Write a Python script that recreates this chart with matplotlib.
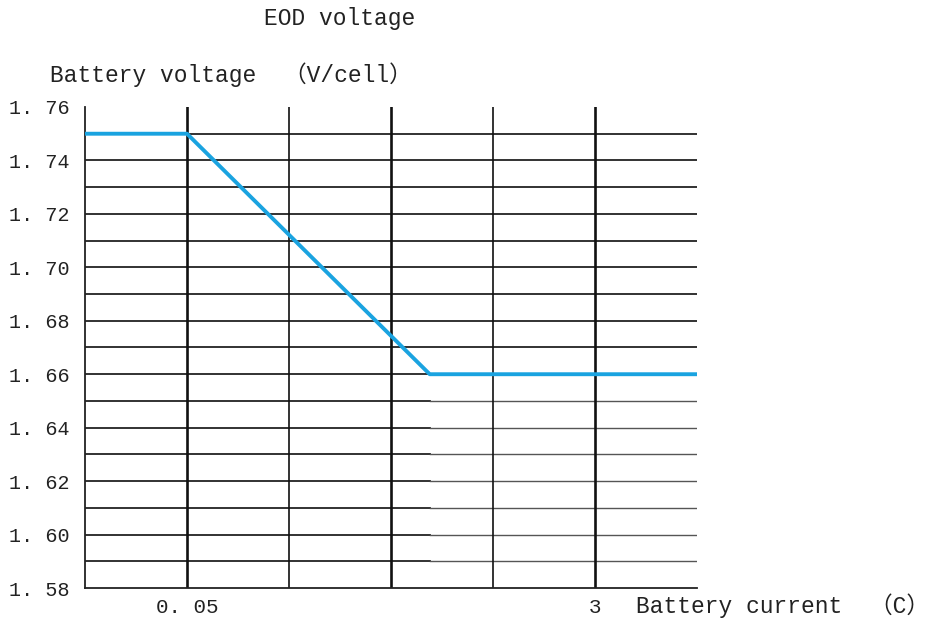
import matplotlib.pyplot as plt

# data
curve_x = [0, 1, 3.38, 6]
curve_v = [1.75, 1.75, 1.66, 1.66]
grid_x = [1, 2, 3, 4, 5]
grid_v = [1.58 + 0.01 * i for i in range(1, 18)]
ytick_vals = [1.58, 1.60, 1.62, 1.64, 1.66, 1.68, 1.70, 1.72, 1.74, 1.76]
ytick_labels = ['1. 58', '1. 60', '1. 62', '1. 64', '1. 66', '1. 68', '1. 70', '1. 72', '1. 74', '1. 76']
xtick_vals = [1, 5]
xtick_labels = ['0. 05', '3']

fonts = ['Liberation Mono', 'Noto Sans CJK SC', 'DejaVu Sans']
W, H = 941, 623

fig = plt.figure(figsize=(W / 100, H / 100), dpi=100)
ax = fig.add_axes([85 / W, 1 - 588 / H, 612 / W, 481 / H])
ax.set_xlim(0, 6)
ax.set_ylim(1.58, 1.76)

# horizontal lines, lighter right of the knee below 1.66
for v in grid_v:
    if v < 1.655:
        ax.plot([0, 3.38], [v, v], color='#222222', lw=1.3, zorder=1)
        ax.plot([3.38, 6], [v, v], color='#555555', lw=1.0, zorder=1)
    else:
        ax.plot([0, 6], [v, v], color='#222222', lw=1.3, zorder=1)

for x in grid_x:
    lw = 1.9 if x % 2 == 1 else 1.2
    ax.plot([x, x], [1.58, 1.76], color='#111111', lw=lw, zorder=1)

ax.plot(curve_x, curve_v, color='#1aa3e0', lw=2.8, zorder=3, solid_capstyle='butt')

for s in ['top', 'right']:
    ax.spines[s].set_visible(False)
ax.spines['left'].set_color('#222222')
ax.spines['bottom'].set_color('#222222')
ax.spines['left'].set_linewidth(1.3)
ax.spines['bottom'].set_linewidth(1.3)

ax.set_yticks(ytick_vals)
ax.set_yticklabels(ytick_labels, family=fonts, fontsize=14.5, color='#222222')
ax.set_xticks(xtick_vals)
ax.set_xticklabels(xtick_labels, family=fonts, fontsize=15, color='#222222')
ax.tick_params(axis='y', length=0, pad=11)
ax.tick_params(axis='x', length=0, pad=7)

fig.text(340 / W, 1 - 18 / H, 'EOD voltage', family=fonts, fontsize=16.5,
         ha='center', va='center', color='#222222')
fig.text(50 / W, 1 - 75 / H, 'Battery voltage  （V/cell）', family=fonts, fontsize=16.5,
         ha='left', va='center', color='#222222')
fig.text(636 / W, 1 - 606 / H, 'Battery current  （C）', family=fonts, fontsize=16.5,
         ha='left', va='center', color='#222222')

fig.savefig('out.png', dpi=100)
